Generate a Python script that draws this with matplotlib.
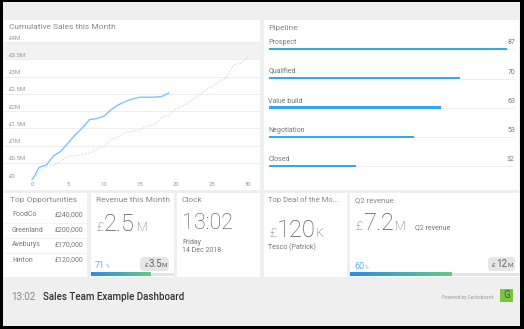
import matplotlib.pyplot as plt
import numpy as np
from matplotlib.colors import LinearSegmentedColormap
from matplotlib.patches import Rectangle, FancyBboxPatch

plt.rcParams['font.family'] = ['Roboto', 'DejaVu Sans']

W, H = 524, 329

# cumulative sales (£)
days_this_month = [0, 1, 2, 3, 4, 5, 6, 7, 8, 9, 10, 11, 12, 13, 14, 15, 16, 17, 18, 19]
sales_this_month = [0, 0.37e6, 0.44e6, 0.70e6, 0.83e6, 1.07e6, 1.31e6, 1.51e6, 1.75e6, 1.78e6,
                    1.85e6, 2.04e6, 2.18e6, 2.28e6, 2.35e6, 2.40e6, 2.40e6, 2.40e6, 2.42e6, 2.52e6]
days_last_month = list(range(31))
sales_last_month = [0, 0.25e6, 0.40e6, 0.42e6, 0.54e6, 0.70e6, 0.70e6, 0.74e6, 0.78e6, 0.90e6,
                    0.98e6, 1.17e6, 1.25e6, 1.38e6, 1.41e6, 1.46e6, 1.56e6, 1.60e6, 1.83e6, 1.86e6,
                    2.06e6, 2.15e6, 2.28e6, 2.43e6, 2.59e6, 2.71e6, 2.86e6, 2.96e6, 3.34e6, 3.39e6, 3.57e6]
y_ticks = [0, 0.5e6, 1e6, 1.5e6, 2e6, 2.5e6, 3e6, 3.5e6, 4e6]
y_tick_labels = ['£0', '£0.5M', '£1M', '£1.5M', '£2M', '£2.5M', '£3M', '£3.5M', '£4M']
target_band = (3.5e6, 4e6)

pipeline_stages = ['Prospect', 'Qualified', 'Value build', 'Negotiation', 'Closed']
pipeline_values = [87, 70, 63, 53, 32]

opp_names = ['FoodCo', 'Greenland', 'Aveburys', 'Hinton']
opp_values = ['£240,000', '£200,000', '£170,000', '£120,000']

revenue_month = 2.5
revenue_target = 3.5
q2_revenue = 7.2
q2_target = 12


def px_axes(fig, x0, y0, x1, y1):
    return fig.add_axes([x0 / W, 1 - y1 / H, (x1 - x0) / W, (y1 - y0) / H])


fig = plt.figure(figsize=(W / 100, H / 100), dpi=100, facecolor='#efefef')
bg = fig.add_axes([0, 0, 1, 1], zorder=0)
bg.set_xlim(0, W)
bg.set_ylim(H, 0)
bg.axis('off')


def panel(x0, y0, x1, y1):
    bg.add_patch(Rectangle((x0, y0), x1 - x0, y1 - y0, facecolor='white', edgecolor='none'))


def txt(x, y, s, size, color='#888888', ha='left', va='center', weight='normal'):
    bg.text(x, y, s, fontsize=size, color=color, ha=ha, va=va, fontweight=weight)


panel(4, 20, 260, 190)
panel(264, 20, 519, 190)
panel(4, 193, 87, 277)
panel(91, 193, 174, 277)
panel(177, 193, 260, 277)
panel(264, 193, 347, 277)
panel(350, 193, 519, 277)

# ---- cumulative sales chart
ax = px_axes(fig, 4, 42, 260, 180)
ax.set_zorder(1)
ax.set_facecolor('none')
ax.set_xlim(-28 / 7.2, 30 + 12 / 7.2)
ax.set_ylim(0, 4e6)
ax.axhspan(target_band[0], target_band[1], color='#f2f2f2', lw=0, zorder=0)
for v in y_ticks:
    ax.axhline(v, color='#ebebeb', lw=0.6, zorder=1)
for v, lab in zip(y_ticks, y_tick_labels):
    ax.text(5 / 256, v + 0.04e6, lab, transform=ax.get_yaxis_transform(), fontsize=4.3,
            color='#999999', va='bottom', ha='left')
ax.plot(days_last_month, sales_last_month, color='#cfcfcf', lw=0.8, ls=':', zorder=2)
ax.plot(days_this_month, sales_this_month, color='#7fc4f5', lw=1.0, zorder=3)
ax.set_xticks([0, 5, 10, 15, 20, 25, 30])
ax.set_yticks([])
ax.tick_params(axis='x', length=0, labelsize=4.3, labelcolor='#999999', pad=1.5)
for s in ax.spines.values():
    s.set_visible(False)
txt(9, 27, 'Cumulative Sales this Month', 6)

# ---- pipeline
pax = px_axes(fig, 269, 49, 515, 166)
pax.set_zorder(1)
pax.set_facecolor('none')
pax.set_xlim(0, 90)
pax.set_ylim(len(pipeline_stages) - 1, 0)
idx = np.arange(len(pipeline_stages))
pax.barh(idx + 0.03, [90] * len(idx), height=0.035, color='#efefef', clip_on=False)
pax.barh(idx, pipeline_values, height=0.085, color='#33a8f0', clip_on=False)
for i, (name, val) in enumerate(zip(pipeline_stages, pipeline_values)):
    pax.text(-0.3, i - 0.21, name, fontsize=5, color='#777777', ha='left', va='center')
    pax.text(90, i - 0.21, str(val), fontsize=5, color='#777777', ha='right', va='center')
pax.axis('off')
txt(268, 28, 'Pipeline', 6)

# ---- top opportunities
txt(10, 200, 'Top Opportunities', 6)
for i, (n, v) in enumerate(zip(opp_names, opp_values)):
    y = 215 + 15 * i
    txt(12, y, n, 5, '#777777')
    txt(83, y, v, 5, '#777777', ha='right')
    if i < len(opp_names) - 1:
        bg.plot([4, 87], [y + 7.5, y + 7.5], color='#f0f0f0', lw=0.6)

cmap = LinearSegmentedColormap.from_list('prog', ['#2b8ee6', '#5ecb88'])
grad = np.linspace(0, 1, 64).reshape(1, -1)


def progress(x0, x1, frac):
    xe = x0 + (x1 - x0) * frac
    bg.add_patch(Rectangle((x0, 273), x1 - x0, 3.3, facecolor='#e3e3e3', edgecolor='none'))
    bg.imshow(grad, cmap=cmap, aspect='auto', extent=[x0, xe, 276.3, 273], zorder=3)


def pill(x0, x1, y0, y1):
    bg.add_patch(FancyBboxPatch((x0, y0), x1 - x0, y1 - y0, boxstyle='round,pad=0,rounding_size=4',
                                facecolor='#e6e6e6', edgecolor='none'))


# ---- revenue this month
txt(96, 200, 'Revenue this Month', 6)
txt(96, 231, '£', 9, '#555555', va='baseline', weight='light')
txt(104, 231, f'{revenue_month}', 17, '#555555', va='baseline', weight='light')
txt(137, 231, 'M', 9, '#555555', va='baseline', weight='light')
frac = revenue_month / revenue_target
txt(95, 268, f'{round(frac * 100)}', 6.5, '#5db4f0', va='baseline')
txt(105.5, 268, '%', 3.5, '#5db4f0', va='baseline')
pill(140, 169, 257, 271)
txt(145, 267, '£', 4.5, '#666666', va='baseline')
txt(149, 267, f'{revenue_target}', 7, '#666666', va='baseline')
txt(162, 267, 'M', 4.5, '#666666', va='baseline')
progress(91, 174, frac)

# ---- clock
txt(182, 200, 'Clock', 6)
txt(182, 229, '13:02', 15.5, '#555555', va='baseline', weight='light')
txt(182, 243, 'Friday', 5, '#777777')
txt(182, 251, '14 Dec 2018', 5, '#777777')

# ---- top deal
txt(268, 200, 'Top Deal of the Mo...', 5.5)
txt(269, 237, '£', 9, '#555555', va='baseline', weight='light')
txt(277, 237, '120', 17, '#555555', va='baseline', weight='light')
txt(316, 237, 'K', 9, '#555555', va='baseline', weight='light')
txt(268, 247, 'Tesco (Patrick)', 5, '#777777')

# ---- q2 revenue
txt(355, 200, 'Q2 revenue', 5.5)
txt(355, 230, '£', 9, '#555555', va='baseline', weight='light')
txt(363, 230, f'{q2_revenue}', 17, '#555555', va='baseline', weight='light')
txt(395, 230, 'M', 9, '#555555', va='baseline', weight='light')
txt(415, 228, 'Q2 revenue', 5, '#777777')
frac2 = q2_revenue / q2_target
txt(354, 269, f'{round(frac2 * 100)}', 6.5, '#5db4f0', va='baseline')
txt(365, 269, '%', 3.5, '#5db4f0', va='baseline')
pill(488, 515, 257, 271)
txt(492, 267, '£', 4.5, '#666666', va='baseline')
txt(496, 267, f'{q2_target}', 7, '#666666', va='baseline')
txt(507, 267, 'M', 4.5, '#666666', va='baseline')
progress(350, 519, frac2)

# ---- footer
txt(11, 297, '13:02', 7, '#888888')
txt(43, 297, 'Sales Team Example Dashboard', 7, '#333333', weight='medium')
txt(493, 297, 'Powered by Geckoboard', 3.3, '#999999', ha='right')
bg.add_patch(Rectangle((500, 289), 13, 13, facecolor='#7dc242', edgecolor='none'))
txt(506.5, 295.5, 'G', 7, '#2d6b12', ha='center')

# black frame
for r in [(0, 0, W, 1.5), (0, 0, 3, H), (519.5, 0, 5, H), (0, 326, W, 3)]:
    bg.add_patch(Rectangle((r[0], r[1]), r[2], r[3], facecolor='black', edgecolor='none', zorder=10))

fig.savefig('out.png', dpi=100, facecolor=fig.get_facecolor())
